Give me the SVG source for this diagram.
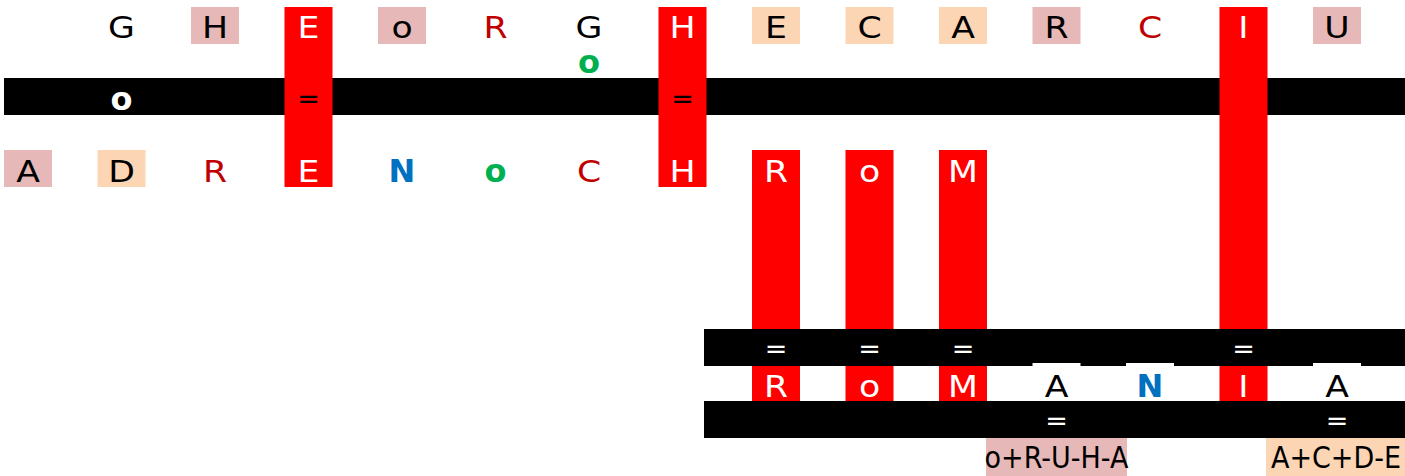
<svg xmlns="http://www.w3.org/2000/svg" width="1405" height="476" viewBox="0 0 1405 476">
<style>
text{font-family:"DejaVu Sans","Liberation Sans",sans-serif;font-size:31px;text-anchor:middle}
.eq{font-size:27px}
.lab{font-size:30px}
.b{font-weight:bold;font-size:32px}
.band{fill:#000}
.red{fill:#FF0000}
.pink{fill:#E6B8B7}
.peach{fill:#FCD5B4}
.wh{fill:#FFFFFF}
.tk{fill:#000}
.tw{fill:#FFFFFF}
.tr{fill:#C00000}
.tb{fill:#0070C0}
.tg{fill:#00B050}
</style>
<rect width="1405" height="476" fill="#fff"/>
<g id="connectors">
<rect id="band1" class="band" x="4" y="78" width="1401" height="37"/>
</g>
<g id="top-row">
<g id="t1"><text class="tk" transform="translate(121.5,37.5) scale(1.12,1)">G</text></g>
<g id="t2"><rect class="pink" x="191" y="7" width="48" height="37"/><text class="tk" transform="translate(215,37.5) scale(1.12,1)">H</text></g>
<g id="colE"><rect class="red" x="284.5" y="7" width="48" height="180"/><text class="tw" transform="translate(308.5,37.5) scale(1.12,1)">E</text><text class="tk eq" x="308.5" y="108">=</text><text class="tw" transform="translate(308.5,181.5) scale(1.12,1)">E</text></g>
<g id="t4"><rect class="pink" x="378" y="7" width="48" height="37"/><text class="tk" transform="translate(402,37.5) scale(1.12,1)">o</text></g>
<g id="t5"><text class="tr" transform="translate(495.5,37.5) scale(1.12,1)">R</text></g>
<g id="t6"><text class="tk" transform="translate(589,37.5) scale(1.12,1)">G</text><text class="b tg" x="589" y="73">o</text></g>
<g id="colH"><rect class="red" x="658.5" y="7" width="48" height="180"/><text class="tw" transform="translate(682.5,37.5) scale(1.12,1)">H</text><text class="tk eq" x="682.5" y="108">=</text><text class="tw" transform="translate(682.5,181.5) scale(1.12,1)">H</text></g>
<g id="t8"><rect class="peach" x="752" y="7" width="48" height="37"/><text class="tk" transform="translate(776,37.5) scale(1.12,1)">E</text></g>
<g id="t9"><rect class="peach" x="845.5" y="7" width="48" height="37"/><text class="tk" transform="translate(869.5,37.5) scale(1.12,1)">C</text></g>
<g id="t10"><rect class="peach" x="939" y="7" width="48" height="37"/><text class="tk" transform="translate(963,37.5) scale(1.12,1)">A</text></g>
<g id="t11"><rect class="pink" x="1032.5" y="7" width="48" height="37"/><text class="tk" transform="translate(1056.5,37.5) scale(1.12,1)">R</text></g>
<g id="t12"><text class="tr" transform="translate(1150,37.5) scale(1.12,1)">C</text></g>
<g id="colI"><rect class="red" x="1219.5" y="7" width="48" height="322"/><text class="tw" transform="translate(1243.5,37.5) scale(1.12,1)">I</text></g>
<g id="t14"><rect class="pink" x="1313" y="7" width="48" height="37"/><text class="tk" transform="translate(1337,37.5) scale(1.12,1)">U</text></g>
</g>
<g id="band1-text"><text class="b tw" x="121.5" y="110">o</text></g>
<g id="bottom-row">
<g id="b0"><rect class="pink" x="4" y="150" width="48" height="37"/><text class="tk" transform="translate(28,181.5) scale(1.12,1)">A</text></g>
<g id="b1"><rect class="peach" x="97.5" y="150" width="48" height="37"/><text class="tk" transform="translate(121.5,181.5) scale(1.12,1)">D</text></g>
<g id="b2"><text class="tr" transform="translate(215,181.5) scale(1.12,1)">R</text></g>
<g id="b4"><text class="b tb" x="402" y="181.5">N</text></g>
<g id="b5"><text class="b tg" x="495.5" y="181.5">o</text></g>
<g id="b6"><text class="tr" transform="translate(589,181.5) scale(1.12,1)">C</text></g>
<g id="colR"><rect class="red" x="752" y="150" width="48" height="179"/><text class="tw" transform="translate(776,181.5) scale(1.12,1)">R</text></g>
<g id="colO"><rect class="red" x="845.5" y="150" width="48" height="179"/><text class="tw" transform="translate(869.5,181.5) scale(1.12,1)">o</text></g>
<g id="colM"><rect class="red" x="939" y="150" width="48" height="179"/><text class="tw" transform="translate(963,181.5) scale(1.12,1)">M</text></g>
</g>
<g id="band2">
<rect class="band" x="704" y="329" width="701" height="37"/>
<text class="tw eq" x="776" y="358">=</text>
<text class="tw eq" x="869.5" y="358">=</text>
<text class="tw eq" x="963" y="358">=</text>
<text class="tw eq" x="1243.5" y="358">=</text>
</g>
<g id="result-row">
<g id="r8"><rect class="red" x="752" y="366" width="48" height="35"/><text class="tw" transform="translate(776,396.5) scale(1.12,1)">R</text></g>
<g id="r9"><rect class="red" x="845.5" y="366" width="48" height="35"/><text class="tw" transform="translate(869.5,396.5) scale(1.12,1)">o</text></g>
<g id="r10"><rect class="red" x="939" y="366" width="48" height="35"/><text class="tw" transform="translate(963,396.5) scale(1.12,1)">M</text></g>
<g id="r11"><rect class="wh" x="1032.5" y="363" width="48" height="38"/><text class="tk" transform="translate(1056.5,396.5) scale(1.12,1)">A</text></g>
<g id="r12"><rect class="wh" x="1126" y="363" width="48" height="38"/><text class="b tb" x="1150" y="396.5">N</text></g>
<g id="r13"><rect class="red" x="1219.5" y="366" width="48" height="35"/><text class="tw" transform="translate(1243.5,396.5) scale(1.12,1)">I</text></g>
<g id="r14"><rect class="wh" x="1313" y="363" width="48" height="38"/><text class="tk" transform="translate(1337,396.5) scale(1.12,1)">A</text></g>
</g>
<g id="band3">
<rect class="band" x="704" y="401" width="701" height="37"/>
<text class="tw eq" x="1056.5" y="430">=</text>
<text class="tw eq" x="1337" y="430">=</text>
</g>
<g id="labels">
<g id="lab1"><rect class="pink" x="986" y="438" width="141" height="38"/><text class="tk lab" transform="translate(1056.5,467.5) scale(0.9,1)">o+R-U-H-A</text></g>
<g id="lab2"><rect class="peach" x="1266" y="438" width="139" height="38"/><text class="tk lab" transform="translate(1336,467.5) scale(0.9,1)">A+C+D-E</text></g>
</g>
</svg>
